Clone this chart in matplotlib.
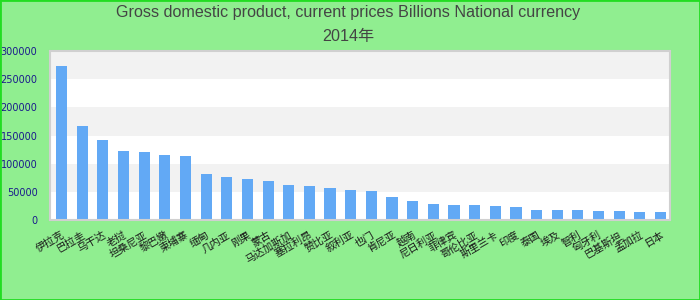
import matplotlib
matplotlib.use('Agg')
import matplotlib.pyplot as plt
from matplotlib.patches import Rectangle

# --- data ---
countries = ['伊拉克', '巴拉圭', '乌干达', '老挝', '坦桑尼亚', '黎巴嫩', '柬埔寨', '缅甸',
             '几内亚', '刚果', '蒙古', '马达加斯加', '塞拉利昂', '赞比亚', '叙利亚', '也门',
             '肯尼亚', '越南', '尼日利亚', '菲律宾', '哥伦比亚', '斯里兰卡', '印度', '泰国',
             '埃及', '智利', '匈牙利', '巴基斯坦', '孟加拉', '日本']
gdp_2014 = [274000, 167000, 142000, 122500, 120700, 115400, 113600, 81600,
            76300, 72800, 69200, 62100, 60300, 56800, 53200, 51500,
            40800, 33700, 28400, 26600, 26600, 24800, 23000, 17800,
            17800, 17800, 16000, 16000, 14200, 14200]
y_ticks = [0, 50000, 100000, 150000, 200000, 250000, 300000]

title_line1 = 'Gross domestic product, current prices Billions National currency'
title_line2 = '2014年'

fig = plt.figure(figsize=(7, 3), dpi=100, facecolor='#90ee90')
ax = fig.add_axes([50 / 700, 80 / 300, 620 / 700, 169 / 300])
ax.set_facecolor('white')

# alternating horizontal bands
for i in range(len(y_ticks) - 1):
    if (len(y_ticks) - 2 - i) % 2 == 0:
        ax.axhspan(y_ticks[i], y_ticks[i + 1], color='#f2f2f2', zorder=0, lw=0)

x = list(range(len(countries)))
ax.bar(x, gdp_2014, width=0.54, color='#62a9f5', zorder=2)

ax.set_xlim(-0.56, len(countries) - 0.54)
ax.set_ylim(0, 300000)
ax.set_yticks(y_ticks)
ax.set_yticklabels([str(v) for v in y_ticks])
ax.tick_params(axis='y', length=0, pad=9, labelsize=7, labelcolor='#1a1a8c')
ax.tick_params(axis='x', length=0, pad=7)
ax.set_xticks(x)
ax.set_xticklabels(countries, rotation=30, ha='right', rotation_mode='anchor',
                   fontsize=7.5, color='#1a1a1a',
                   family=['Noto Sans CJK SC', 'DejaVu Sans'])

for s in ax.spines.values():
    s.set_color('#d0d0d0')
    s.set_linewidth(1.5)

fig.text(0.497, 1 - 13 / 300, title_line1, ha='center', va='center', fontsize=11.6,
         color='#444444', family=['Liberation Sans', 'Noto Sans CJK SC'])
fig.text(0.497, 1 - 37 / 300, title_line2, ha='center', va='center', fontsize=11.6,
         color='#444444', family=['Liberation Sans', 'Noto Sans CJK SC'])

# bright green frame round the figure
fig.patches.append(Rectangle((0, 0), 1, 1, transform=fig.transFigure, fill=False,
                             edgecolor='#22dd22', linewidth=2))

fig.savefig('out.png', dpi=100, facecolor=fig.get_facecolor())
